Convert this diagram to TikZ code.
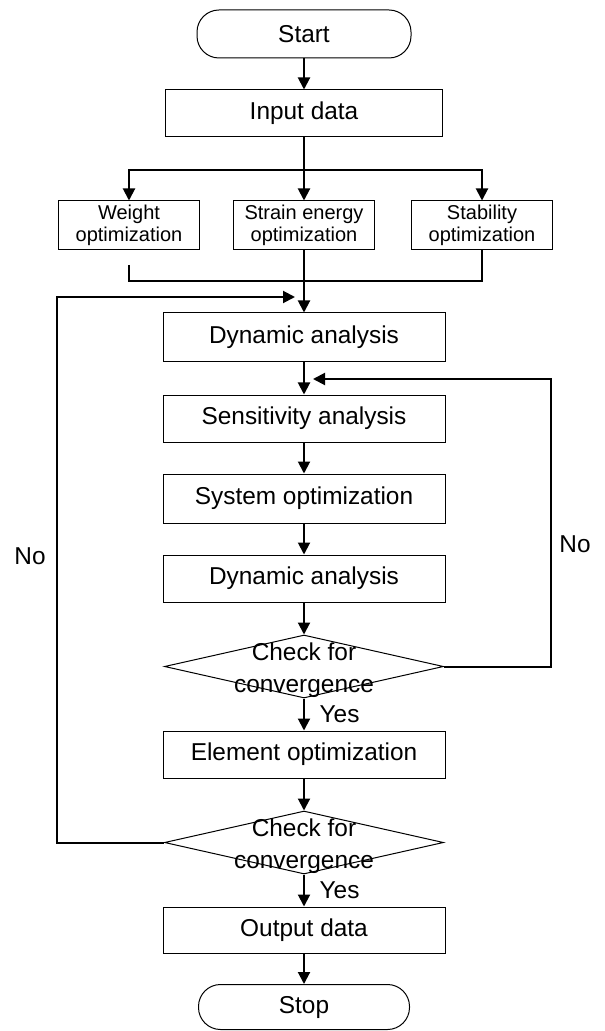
\documentclass[tikz,border=0pt]{standalone}
\usepackage{fontspec}
\setmainfont{Liberation Sans}
\usetikzlibrary{shapes.geometric,arrows.meta}
\begin{document}
\begin{tikzpicture}[x=0.5pt,y=-0.5pt,>={Triangle[length=6pt,width=6pt]},
    box/.style={draw,line width=0.5pt,minimum width=141pt,minimum height=24.5pt,inner sep=0pt,font=\fontsize{12.2}{15}\selectfont},
    smallbox/.style={draw,line width=0.5pt,minimum width=70.5pt,minimum height=24.5pt,inner sep=0pt,align=center,font=\fontsize{10}{11.2}\selectfont},
    term/.style={draw,line width=0.5pt,rounded corners=11pt,minimum height=24pt,inner sep=0pt,font=\fontsize{12.2}{15}\selectfont},
    check/.style={draw,diamond,line width=0.5pt,minimum width=139.5pt,minimum height=31.5pt,inner sep=0pt,
        label={[align=center,yshift=-2pt,font=\fontsize{12.2}{16}\selectfont]center:{Check for\\convergence}}},
    flow/.style={line width=1pt},
    lbl/.style={font=\fontsize{12.2}{15}\selectfont}]
\useasboundingbox (0,0) rectangle (604,1031);
\node[term,minimum width=107pt] (start) at (304,34) {Start};
\node[box,minimum width=138.5pt,minimum height=23.5pt] (input) at (304,113.5) {Input data};
\node[smallbox] (weight) at (129,225.5) {Weight\\optimization};
\node[smallbox] (strain) at (304,225.5) {Strain energy\\optimization};
\node[smallbox] (stab) at (482,225.5) {Stability\\optimization};
\node[box] (dyn1) at (304,337.5) {Dynamic analysis};
\node[box,minimum height=23.5pt] (sens) at (304,418.5) {Sensitivity analysis};
\node[box] (sys) at (304,498.5) {System optimization};
\node[box,minimum height=23.5pt] (dyn2) at (304,578.5) {Dynamic analysis};
\node[check] (chk1) at (304,666.5) {};
\node[box,minimum height=23.5pt] (elem) at (304,754.5) {Element optimization};
\node[check] (chk2) at (304,842.5) {};
\node[box,minimum height=23pt] (output) at (304,930) {Output data};
\node[term,minimum width=105.5pt,minimum height=22.5pt] (stop) at (304,1007) {Stop};
\node[lbl] (noL) at (30,556) {No};
\node[lbl] (noR) at (575,544) {No};
\coordinate (split) at (304,170);
\coordinate (merge) at (304,281);
\coordinate (wtail) at (129,265);
\coordinate (loopL) at (57,297);
\coordinate (entL) at (295,297);
\coordinate (loopR) at (551,379);
\coordinate (entR) at (313,379);
\draw[flow,->] (start) -- (input);
\draw[flow] (input) -- (split);
\draw[flow,->] (split) -| (weight);
\draw[flow,->] (split) -- (strain);
\draw[flow,->] (split) -| (stab);
\draw[flow] (wtail) |- (merge);
\draw[flow] (stab) |- (merge);
\draw[flow,->] (strain) -- (dyn1);
\draw[flow,->] (dyn1) -- (sens);
\draw[flow,->] (sens) -- (sys);
\draw[flow,->] (sys) -- (dyn2);
\draw[flow,->] (dyn2) -- (chk1);
\draw[flow,->] (chk1) -- node[lbl,right=4pt] (yes1) {Yes} (elem);
\draw[flow,->] (elem) -- (chk2);
\draw[flow,->] (chk2) -- node[lbl,right=4pt] (yes2) {Yes} (output);
\draw[flow,->] (output) -- (stop);
\draw[flow,->] (chk1) -| (loopR) -- (entR);
\draw[flow,->] (chk2) -| (loopL) -- (entL);
\end{tikzpicture}
\end{document}
